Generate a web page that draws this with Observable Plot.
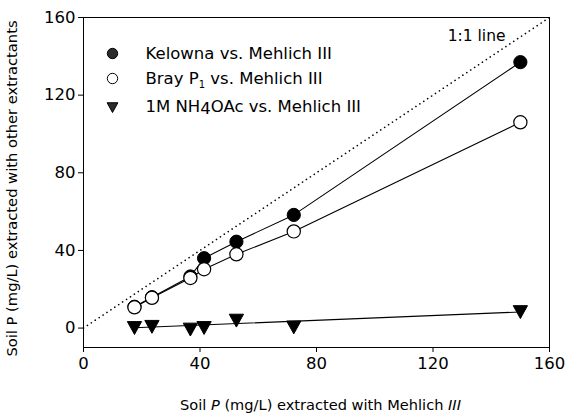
<!DOCTYPE html>
<html>
<head>
<meta charset="utf-8">
<script src="https://cdn.jsdelivr.net/npm/d3@7"></script>
<script src="https://cdn.jsdelivr.net/npm/@observablehq/plot@0.6"></script>
<style>
  html, body { margin: 0; padding: 0; background: white; }
  svg text { font-family: "DejaVu Sans", sans-serif; }
</style>
</head>
<body>
<div id="chart"></div>
<script>
// Data
const mehlich = [17.5, 23.5, 36.7, 41.4, 52.5, 72.2, 150];
const kelowna = [11, 15.9, 26.6, 36, 44.5, 58.3, 137];
const bray    = [10.7, 15.6, 25.8, 30.3, 38, 49.8, 106];
const nh4oac  = [0.8, 1.4, 0, 0.8, 4.6, 1.1, 9];
const xTicks = [0, 40, 80, 120, 160];
const yTicks = [0, 40, 80, 120, 160];
const oneToOne = [0, 160];
const seriesNames = ["Kelowna vs. Mehlich III", "Bray P1 vs. Mehlich III", "1M NH4OAc vs. Mehlich III"];
const xLabel = "Soil P (mg/L) extracted with Mehlich III";
const yLabel = "Soil P (mg/L) extracted with other extractants";
const lineLabel = "1:1 line";

const rowsK = mehlich.map((x, i) => ({x, y: kelowna[i]}));
const rowsB = mehlich.map((x, i) => ({x, y: bray[i]}));
const rowsN = mehlich.map((x, i) => ({x, y: nh4oac[i]}));

const triDown = {
  draw(ctx, size) {
    const r = Math.sqrt(size / Math.PI);
    const h = r * 1.08;
    ctx.moveTo(-h, -r * 0.75);
    ctx.lineTo(h, -r * 0.75);
    ctx.lineTo(0, r * 1.2);
    ctx.closePath();
  }
};

const legendStyles = [
  {symbol: "circle", fill: "#2a2a2a", stroke: "black", r: 5.2},
  {symbol: "circle", fill: "white", stroke: "black", r: 5.2},
  {symbol: triDown, fill: "#2a2a2a", stroke: "black", r: 5}
];
const legendDy = [36, 61, 89];

const legendMarks = seriesNames.flatMap((name, i) => [
  Plot.dot([name], {frameAnchor: "top-left", dx: 29, dy: legendDy[i], ...legendStyles[i], strokeWidth: 1}),
  Plot.text([name], {frameAnchor: "top-left", dx: 62, dy: legendDy[i], text: d => d, textAnchor: "start", lineAnchor: "middle", fontSize: 16.5, fill: "black"})
]);

const chart = Plot.plot({
  width: 565,
  height: 417,
  marginLeft: 83,
  marginRight: 16,
  marginTop: 17,
  marginBottom: 70,
  x: {domain: [0, 160]},
  y: {domain: [-10, 160]},
  style: {background: "white", color: "black", fontFamily: "DejaVu Sans", overflow: "visible"},
  marks: [
    Plot.frame({stroke: "black", strokeWidth: 1}),
    Plot.axisX({ticks: xTicks, tickSize: 5, tickPadding: 5, fontSize: 16.5, label: null, stroke: "black"}),
    Plot.axisY({ticks: yTicks, tickSize: 5, tickPadding: 3, fontSize: 16.5, label: null, stroke: "black"}),
    Plot.line(oneToOne, {x: d => d, y: d => d, stroke: "black", strokeWidth: 1.6, strokeDasharray: "0.1,4.6", strokeLinecap: "round"}),
    Plot.line(rowsK, {x: "x", y: "y", stroke: "black", strokeWidth: 1.1}),
    Plot.dot(rowsK, {x: "x", y: "y", r: 6.6, fill: "black", stroke: "black", strokeWidth: 1}),
    Plot.line(rowsB, {x: "x", y: "y", stroke: "black", strokeWidth: 1.1}),
    Plot.dot(rowsB, {x: "x", y: "y", r: 6.6, fill: "white", stroke: "black", strokeWidth: 1.2}),
    Plot.linearRegressionY(rowsN, {x: "x", y: "y", ci: 0, stroke: "black", strokeWidth: 1.1}),
    Plot.dot(rowsN, {x: "x", y: "y", r: 6.6, symbol: triDown, fill: "black", stroke: "black", strokeWidth: 1}),
    Plot.text([lineLabel], {frameAnchor: "top-right", dx: -44, dy: 19, text: d => d, textAnchor: "end", lineAnchor: "middle", fontSize: 15.5, fill: "black"}),
    ...legendMarks,
    Plot.text([xLabel], {frameAnchor: "bottom", dx: 4, dy: 58, text: d => d, textAnchor: "middle", lineAnchor: "middle", fontSize: 14.6, fill: "black"}),
    Plot.text([yLabel], {frameAnchor: "left", dx: -71, dy: 6, rotate: -90, text: d => d, textAnchor: "middle", lineAnchor: "middle", fontSize: 14.7, fill: "black"})
  ]
});

document.getElementById("chart").appendChild(chart);

// Rich text: italic P / III, subscripts
const svg = d3.select(chart);
function richen(content, parts) {
  svg.selectAll("text").filter(function() { return this.textContent === content; }).each(function() {
    const t = d3.select(this);
    t.text(null);
    parts.forEach(p => {
      const ts = t.append("tspan").text(p.t);
      if (p.italic) ts.attr("font-style", "italic");
      if (p.dy) ts.attr("dy", p.dy);
      if (p.size) ts.attr("font-size", p.size);
    });
  });
}
richen(xLabel, [{t: "Soil "}, {t: "P", italic: true}, {t: " (mg/L) extracted with Mehlich "}, {t: "III", italic: true}]);
richen(seriesNames[1], [{t: "Bray P"}, {t: "1", dy: 4, size: 10}, {t: " vs. Mehlich III", dy: -4}]);
richen(seriesNames[2], [{t: "1M NH"}, {t: "4", dy: 2}, {t: "OAc vs. Mehlich III", dy: -2}]);
</script>
</body>
</html>
